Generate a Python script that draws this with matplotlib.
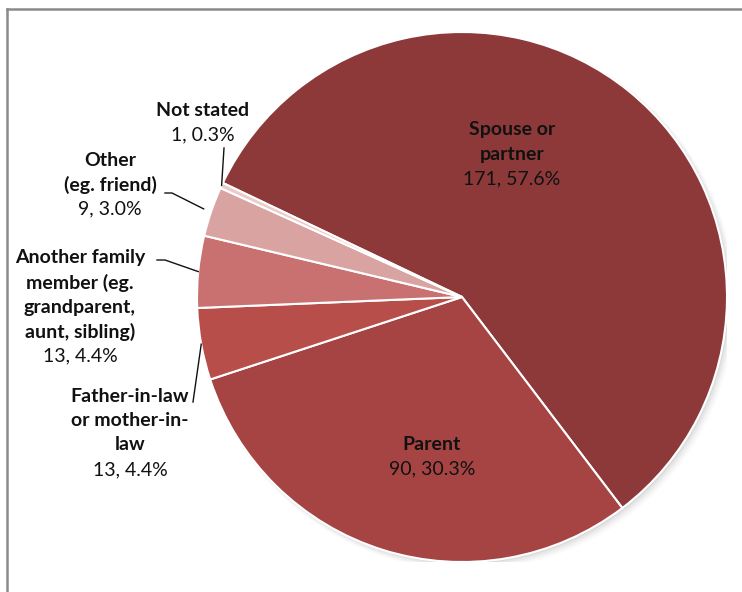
import numpy as np
import matplotlib
matplotlib.use("Agg")
import matplotlib.pyplot as plt

# ---- data ----
categories = ["Spouse or\npartner", "Parent", "Father-in-law\nor mother-in-\nlaw",
              "Another family\nmember (eg.\ngrandparent,\naunt, sibling)",
              "Other\n(eg. friend)", "Not stated"]
counts = [171, 90, 13, 13, 9, 1]
colors = ["#8D3939", "#A64444", "#B84E4A", "#C87170", "#D9A3A1", "#EACBCA"]

W, H = 742, 592
CX, CY, R = 462, 297, 265   # pie centre / radius in pixels

plt.rcParams["font.family"] = ["Lato", "DejaVu Sans"]

fig = plt.figure(figsize=(W / 100, H / 100), dpi=100)
fig.patch.set_facecolor("white")
ax = fig.add_axes([(CX - R) / W, 1 - (CY + R) / H, 2 * R / W, 2 * R / H])
ax.axis("off")


def px(x, y):
    """pixel position -> pie data coords"""
    return (x - CX) / R, (CY - y) / R


# soft drop shadow under the pie
for k, a in enumerate([0.05, 0.04, 0.03, 0.02]):
    off = (2 + k) / R
    ax.add_patch(plt.Circle((off, -off), 1.0 + k / R, color="black",
                            alpha=a, lw=0, zorder=0))

total = sum(counts)
wedges, _ = ax.pie(counts, colors=colors, startangle=154.5, counterclock=False,
                   radius=1.0, wedgeprops=dict(edgecolor="white", linewidth=1.5))
for w in wedges:
    w.set_zorder(1)
ax.set_xlim(-1, 1)
ax.set_ylim(-1, 1)
ax.set_aspect("equal")
ax.axis("off")

labels = [f"{c}, {100 * c / total:.1f}%" for c in counts]

# first-line centre (pixels) of each label block
label_pos = [(512, 130), (432, 444), (130, 396), (80, 258), (110, 160), (203, 110)]
STEP = 24.5
for name, val, (lx, ly) in zip(categories, labels, label_pos):
    lines = name.split("\n")
    for i, line in enumerate(lines + [val]):
        x, y = px(lx, ly + i * STEP)
        ax.text(x, y, line, ha="center", va="center", fontsize=14,
                fontweight="bold" if i < len(lines) else "normal",
                color="#111111", zorder=3, clip_on=False)

# leader lines for the outside labels: (start pixel, elbow pixel or None, end radius)
mids = []
theta = 154.5
for c in counts:
    span = 360 * c / total
    mids.append(np.deg2rad(theta - span / 2))
    theta -= span

leaders = {2: ((193, 402), None, 1.0),
           3: ((157, 260), (165, 260), 1.0),
           4: ((165, 193), (172, 193), 1.03),
           5: ((224, 148), None, 1.0)}
for i, (start, elbow, rr) in leaders.items():
    pts = [px(*start)]
    if elbow:
        pts.append(px(*elbow))
    pts.append((rr * np.cos(mids[i]), rr * np.sin(mids[i])))
    xs, ys = zip(*pts)
    ax.plot(xs, ys, color="#111111", lw=1.0, zorder=2, clip_on=False)

# chart frame (top and left edges visible)
fig.add_artist(plt.Line2D([7 / W, 1], [1 - 9 / H, 1 - 9 / H], color="#8A8A8A", lw=1.8))
fig.add_artist(plt.Line2D([7 / W, 7 / W], [0, 1 - 9 / H], color="#8A8A8A", lw=1.8))

fig.savefig("out.png", dpi=100, facecolor="white")
